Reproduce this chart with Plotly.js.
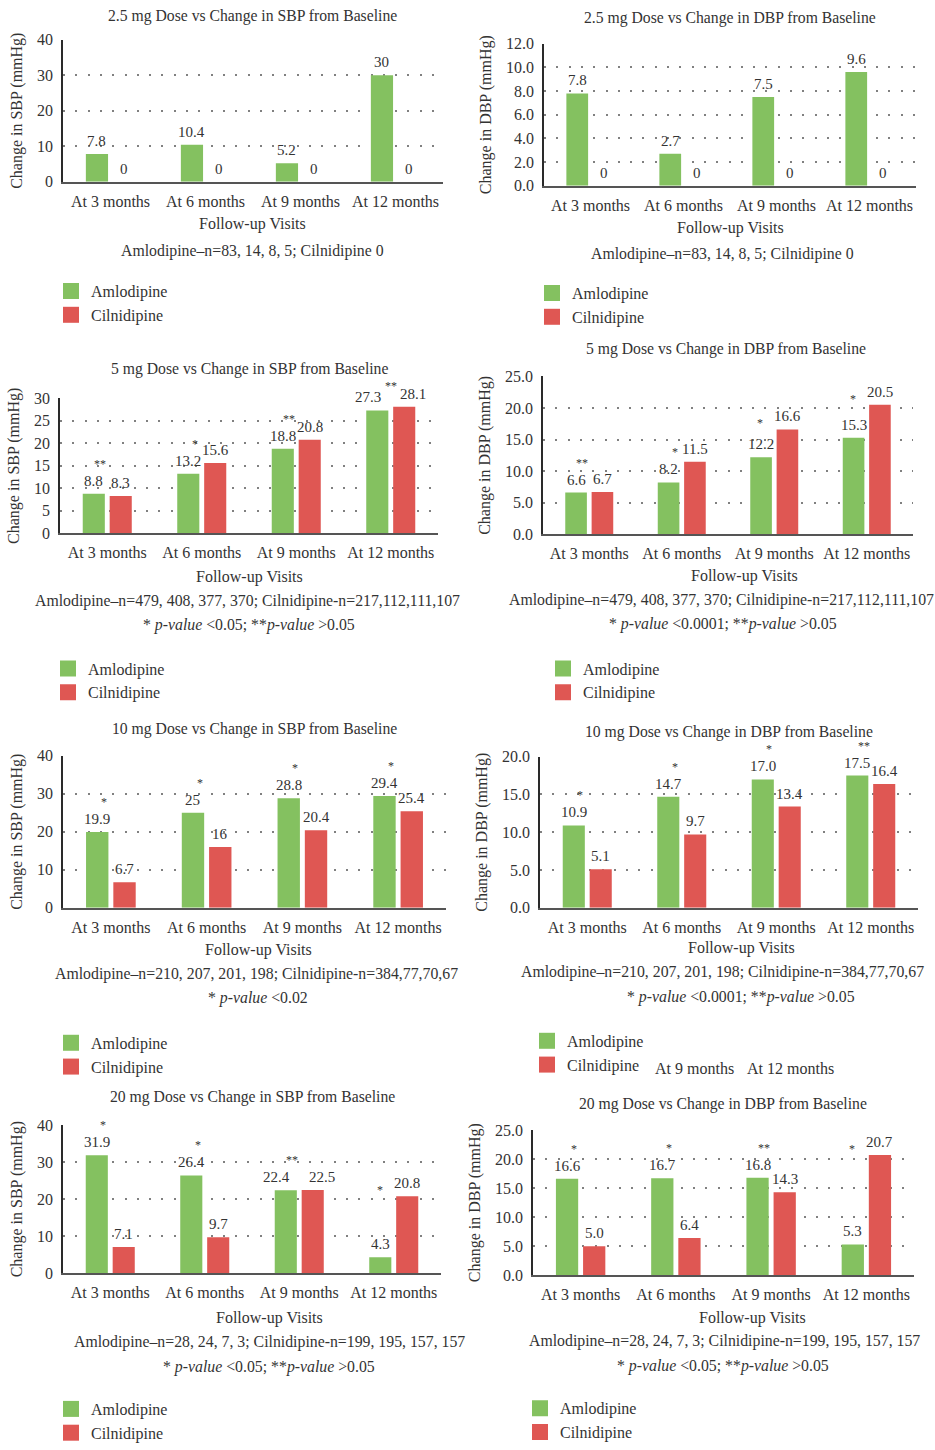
<!DOCTYPE html>
<html>
<head>
<meta charset="utf-8">
<script src="https://cdn.plot.ly/plotly-3.0.1.min.js"></script>
<style>
  html, body { margin: 0; padding: 0; background: #fff; }
  #chart { width: 935px; height: 1450px; }
</style>
</head>
<body>
<div id="chart"></div>
<script>
// Follow-up visits and drug names
const visits = ['At 3 months', 'At 6 months', 'At 9 months', 'At 12 months'];
const drugs = ['Amlodipine', 'Cilnidipine'];

// Change from baseline (mmHg) by dose
const sbp25Amlodipine = [7.8, 10.4, 5.2, 30];
const sbp25Cilnidipine = [0, 0, 0, 0];
const dbp25Amlodipine = [7.8, 2.7, 7.5, 9.6];
const dbp25Cilnidipine = [0, 0, 0, 0];

const sbp5Amlodipine = [8.8, 13.2, 18.8, 27.3];
const sbp5Cilnidipine = [8.3, 15.6, 20.8, 28.1];
const dbp5Amlodipine = [6.6, 8.2, 12.2, 15.3];
const dbp5Cilnidipine = [6.7, 11.5, 16.6, 20.5];

const sbp10Amlodipine = [19.9, 25, 28.8, 29.4];
const sbp10Cilnidipine = [6.7, 16, 20.4, 25.4];
const dbp10Amlodipine = [10.9, 14.7, 17.0, 17.5];
const dbp10Cilnidipine = [5.1, 9.7, 13.4, 16.4];

const sbp20Amlodipine = [31.9, 26.4, 22.4, 4.3];
const sbp20Cilnidipine = [7.1, 9.7, 22.5, 20.8];
const dbp20Amlodipine = [16.6, 16.7, 16.8, 5.3];
const dbp20Cilnidipine = [5.0, 6.4, 14.3, 20.7];

// Significance markers per visit
const sbp5Stars = ['**', '*', '**', '**'];
const dbp5Stars = ['**', '*', '*', '*'];
const sbp10Stars = ['*', '*', '*', '*'];
const dbp10Stars = ['*', '*', '*', '**'];
const sbp20Stars = ['*', '*', '**', '*'];
const dbp20Stars = ['*', '*', '**', '*'];

// Panel titles and footnotes
const titles = [
  '2.5 mg Dose vs Change in SBP from Baseline',
  '2.5 mg Dose vs Change in DBP from Baseline',
  '5 mg Dose vs Change in SBP from Baseline',
  '5 mg Dose vs Change in DBP from Baseline',
  '10 mg Dose vs Change in SBP from Baseline',
  '10 mg Dose vs Change in DBP from Baseline',
  '20 mg Dose vs Change in SBP from Baseline',
  '20 mg Dose vs Change in DBP from Baseline'
];
const sbpTitle = 'Change in SBP (mmHg)';
const dbpTitle = 'Change in DBP (mmHg)';
const xTitle = 'Follow-up Visits';
const nNote25 = 'Amlodipine–n=83, 14, 8, 5; Cilnidipine 0';
const nNote5 = 'Amlodipine–n=479, 408, 377, 370; Cilnidipine-n=217,112,111,107';
const nNote10 = 'Amlodipine–n=210, 207, 201, 198; Cilnidipine-n=384,77,70,67';
const nNote20 = 'Amlodipine–n=28, 24, 7, 3; Cilnidipine-n=199, 195, 157, 157';
const pNote05 = '* <i>p-value</i> &lt;0.05; **<i>p-value</i> &gt;0.05';
const pNote0001 = '* <i>p-value</i> &lt;0.0001; **<i>p-value</i> &gt;0.05';
const pNote02 = '* <i>p-value</i> &lt;0.02';

const W = 935, H = 1450;
const GREEN = '#84c160', RED = '#df5753', INK = '#333333';
const FONT = 'Liberation Serif, Times New Roman, serif';
const BARGAP = 0.43, GROUPGAP = 0.18;

const sbpFmt = v => String(v);
const dbpFmt = v => (v === 0 ? '0' : v.toFixed(1));

// Panel content plus its placement on the page (pixels)
const panels = [
  { a: sbp25Amlodipine, c: sbp25Cilnidipine, stars: null, yt: sbpTitle, fmt: sbpFmt, ymax: 40, dtick: 10, tf: '',
    note: nNote25, pnote: null,
    box: { l: 63, r: 443, t: 40, b: 183 }, title: [253, 14], xt: [253, 224], nt: [252, 251], pt: null, leg: [63, 283] },
  { a: dbp25Amlodipine, c: dbp25Cilnidipine, stars: null, yt: dbpTitle, fmt: dbpFmt, ymax: 12, dtick: 2, tf: '.1f',
    note: nNote25, pnote: null,
    box: { l: 544, r: 916, t: 44, b: 187 }, title: [730, 16], xt: [730, 228], nt: [722, 254], pt: null, leg: [544, 285] },
  { a: sbp5Amlodipine, c: sbp5Cilnidipine, stars: sbp5Stars, yt: sbpTitle, fmt: sbpFmt, ymax: 30, dtick: 5, tf: '',
    note: nNote5, pnote: pNote05,
    box: { l: 60, r: 438, t: 401, b: 537 }, title: [249, 370], xt: [249, 579], nt: [247, 603], pt: [249, 627], leg: [60, 663] },
  { a: dbp5Amlodipine, c: dbp5Cilnidipine, stars: dbp5Stars, yt: dbpTitle, fmt: dbpFmt, ymax: 25, dtick: 5, tf: '.1f',
    note: nNote5, pnote: pNote0001,
    box: { l: 543, r: 913, t: 379, b: 538 }, title: [726, 349], xt: [744, 578], nt: [721, 602], pt: [723, 626], leg: [555, 663] },
  { a: sbp10Amlodipine, c: sbp10Cilnidipine, stars: sbp10Stars, yt: sbpTitle, fmt: sbpFmt, ymax: 40, dtick: 10, tf: '',
    note: nNote10, pnote: pNote02,
    box: { l: 63, r: 446, t: 761, b: 914 }, title: [255, 732], xt: [258, 955], nt: [256, 979], pt: [258, 1003], leg: [63, 1040] },
  { a: dbp10Amlodipine, c: dbp10Cilnidipine, stars: dbp10Stars, yt: dbpTitle, fmt: dbpFmt, ymax: 20, dtick: 5, tf: '.1f',
    note: nNote10, pnote: pNote0001,
    box: { l: 540, r: 918, t: 762, b: 914 }, title: [729, 735], xt: [741, 953], nt: [722, 977], pt: [741, 1002], leg: [539, 1038] },
  { a: sbp20Amlodipine, c: sbp20Cilnidipine, stars: sbp20Stars, yt: sbpTitle, fmt: sbpFmt, ymax: 40, dtick: 10, tf: '',
    note: nNote20, pnote: pNote05,
    box: { l: 63, r: 441, t: 1133, b: 1282 }, title: [252, 1103], xt: [269, 1325], nt: [269, 1349], pt: [269, 1374], leg: [63, 1409] },
  { a: dbp20Amlodipine, c: dbp20Cilnidipine, stars: dbp20Stars, yt: dbpTitle, fmt: dbpFmt, ymax: 25, dtick: 5, tf: '.1f',
    note: nNote20, pnote: pNote05,
    box: { l: 533, r: 914, t: 1138, b: 1284 }, title: [723, 1110], xt: [752, 1325], nt: [724, 1348], pt: [723, 1373], leg: [532, 1408] }
];

const px = x => x / W;
const py = y => 1 - y / H;
// page-level text, centred on a pixel position (nudged for the glyph centre)
const textAnn = (x, y, text, size) => ({
  xref: 'paper', yref: 'paper', x: px(x), y: py(y + 2), text: text, showarrow: false,
  xanchor: 'center', yanchor: 'middle', font: { family: FONT, size: size, color: INK }
});

const traces = [];
const annotations = [];
const layout = {
  width: W, height: H,
  margin: { l: 0, r: 0, t: 0, b: 0 },
  paper_bgcolor: '#fff', plot_bgcolor: 'rgba(0,0,0,0)',
  font: { family: FONT, size: 16, color: INK },
  barmode: 'group', bargap: BARGAP, bargroupgap: GROUPGAP,
  showlegend: true,
  annotations: annotations
};

panels.forEach((p, i) => {
  const k = i + 1;
  const sfx = k === 1 ? '' : String(k);
  const xa = 'x' + sfx, ya = 'y' + sfx;
  const legName = 'legend' + sfx;

  [p.a, p.c].forEach((vals, s) => {
    traces.push({
      type: 'bar', x: visits, y: vals, name: drugs[s],
      xaxis: xa, yaxis: ya, legend: legName,
      marker: { color: s === 0 ? GREEN : RED, line: { width: 0 } },
      hoverinfo: 'skip'
    });
  });

  layout['xaxis' + sfx] = {
    domain: [px(p.box.l), px(p.box.r)], anchor: ya, type: 'category',
    showline: true, linecolor: '#555', linewidth: 2, ticks: '', showgrid: false, zeroline: false,
    tickfont: { family: FONT, size: 16, color: INK }, ticklabelstandoff: 4, fixedrange: true
  };
  layout['yaxis' + sfx] = {
    domain: [py(p.box.b), py(p.box.t)], anchor: xa,
    range: [0, p.ymax], dtick: p.dtick, tick0: 0, tickformat: p.tf,
    showline: true, linecolor: '#2a2a2a', linewidth: 1.8, ticks: '', zeroline: false,
    showgrid: true, gridcolor: '#808080', gridwidth: 2, griddash: '2px,10.3px',
    tickfont: { family: FONT, size: 16, color: INK }, ticklabelstandoff: 5,
    title: { text: p.yt, font: { family: FONT, size: 16, color: INK }, standoff: 10 },
    automargin: false, fixedrange: true
  };

  layout[legName] = {
    x: px(p.leg[0] - 12), y: py(p.leg[1] - 7), xanchor: 'left', yanchor: 'top',
    bgcolor: 'rgba(0,0,0,0)', borderwidth: 0, traceorder: 'normal',
    font: { family: FONT, size: 16, color: INK }
  };

  const plotH = p.box.b - p.box.t;
  const unit = plotH / p.ymax;

  // value labels above each bar, shifted onto its group slot;
  // pairs of wide labels at nearly equal height are spread apart
  const catPx = (p.box.r - p.box.l) / visits.length;
  const off = catPx * (1 - BARGAP) / 4;
  visits.forEach((cat, j) => {
    const ta = p.fmt(p.a[j]), tc = p.fmt(p.c[j]);
    const crowded = Math.abs(p.a[j] - p.c[j]) * unit < 6 && ta.length >= 4 && tc.length >= 4;
    const spread = crowded ? 9 : 0;
    [[p.a[j], ta, -1], [p.c[j], tc, 1]].forEach(([v, t, dir]) => {
      annotations.push({
        xref: xa, yref: ya, x: cat, y: v, text: t, showarrow: false,
        xshift: dir * (off + spread), yshift: 3, yanchor: 'bottom', xanchor: 'center',
        font: { family: FONT, size: 15, color: INK }
      });
    });
  });

  // significance markers: clear of the green label, or just over a taller red bar,
  // kept a little below the panel title
  if (p.stars) {
    p.stars.forEach((st, j) => {
      const overGreen = p.a[j] * unit + 34 >= p.c[j] * unit + 10;
      const base = overGreen ? p.a[j] : p.c[j];
      const want = overGreen ? 30 : 6;
      const room = plotH + 12 - base * unit;
      const clamped = room < want;
      annotations.push({
        xref: xa, yref: ya, x: visits[j], y: base, text: st, showarrow: false,
        xshift: clamped ? 0 : (overGreen ? -7 : -14), yshift: clamped ? room : want,
        yanchor: 'middle', xanchor: 'center',
        font: { family: FONT, size: 12, color: INK }
      });
    });
  }

  annotations.push(textAnn(p.title[0], p.title[1], titles[i], 15.7));
  annotations.push(textAnn(p.xt[0], p.xt[1], xTitle, 16));
  annotations.push(textAnn(p.nt[0], p.nt[1], p.note, 15.8));
  if (p.pnote) annotations.push(textAnn(p.pt[0], p.pt[1], p.pnote, 15.8));
});

// stray category labels printed beside the 10 mg DBP legend
annotations.push(textAnn(694.5, 1074, visits[2], 16));
annotations.push(textAnn(790.5, 1074, visits[3], 16));

function enlargeSwatches() {
  document.querySelectorAll('.legendpoints path').forEach(el => el.setAttribute('d', 'M8,8H-8V-8H8Z'));
}

Plotly.newPlot('chart', traces, layout, { staticPlot: true, displayModeBar: false }).then(() => {
  enlargeSwatches();
  setTimeout(enlargeSwatches, 50);
});
</script>
</body>
</html>
